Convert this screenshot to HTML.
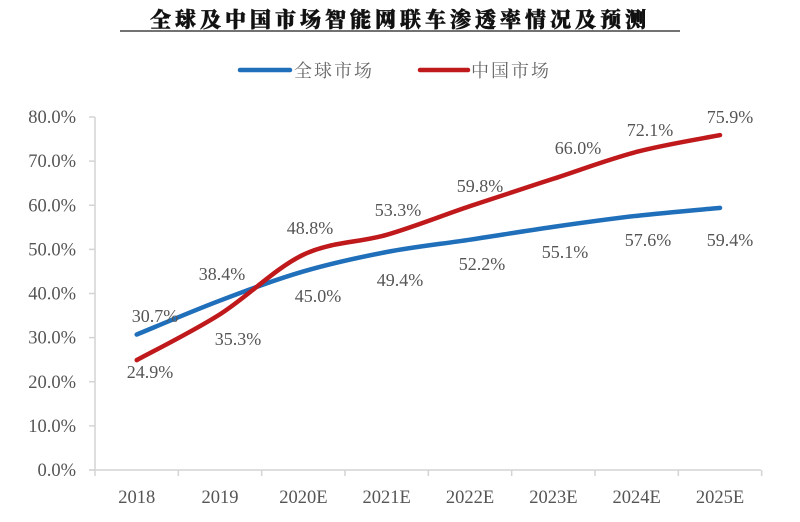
<!DOCTYPE html>
<html><head><meta charset="utf-8"><style>
html,body{margin:0;padding:0;background:#fff;}
svg{display:block;font-family:"Liberation Serif","Noto Serif CJK SC",serif;}
</style></head><body>
<svg id="c" width="800" height="522" viewBox="0 0 800 522" xmlns="http://www.w3.org/2000/svg">
<text x="400" y="27" text-anchor="middle" font-size="21" font-weight="900" fill="#111" letter-spacing="4" stroke="#111" stroke-width="0.5" font-family="'Noto Serif CJK SC',serif">全球及中国市场智能网联车渗透率情况及预测</text>
<line x1="120" y1="31" x2="680" y2="31" stroke="#444" stroke-width="1.5"/>
<line x1="240" y1="70" x2="290" y2="70" stroke="#1f6fba" stroke-width="4.5" stroke-linecap="round"/>
<text x="294" y="77" font-size="18" fill="#666" letter-spacing="2" font-family="'Noto Serif CJK SC',serif">全球市场</text>
<line x1="420" y1="70" x2="468" y2="70" stroke="#c0191c" stroke-width="4.5" stroke-linecap="round"/>
<text x="471" y="77" font-size="18" fill="#666" letter-spacing="2" font-family="'Noto Serif CJK SC',serif">中国市场</text>
<g id="axes" stroke="#d4d4d4" stroke-width="1.5"></g>
<g id="lbl" font-size="18.5" fill="#555"></g>
<path id="pb" fill="none" stroke="#1f6fba" stroke-width="4.5" stroke-linecap="round"/>
<path id="pr" fill="none" stroke="#c0191c" stroke-width="4.5" stroke-linecap="round"/>
<g id="dl" font-size="18" fill="#555" text-anchor="middle"></g>
</svg>
<script>
var NS="http://www.w3.org/2000/svg";
function el(p,t,a,txt){var e=document.createElementNS(NS,t);for(var k in a)e.setAttribute(k,a[k]);if(txt)e.textContent=txt;p.appendChild(e);return e;}
var ax=document.getElementById('axes'),lb=document.getElementById('lbl'),dl=document.getElementById('dl');
function Y(v){return 470-v*4.4125;}
function X(i){return 136.7+i*83.33;}
el(ax,'line',{x1:95,y1:117,x2:95,y2:470});
el(ax,'line',{x1:89,y1:470,x2:761,y2:470});
for(var i=0;i<=8;i++){var y=Y(i*10);el(ax,'line',{x1:89,y1:y,x2:95,y2:y});
 el(lb,'text',{x:76,y:y+6,'text-anchor':'end'},(i*10).toFixed(1)+'%');}
var cats=['2018','2019','2020E','2021E','2022E','2023E','2024E','2025E'];
for(var i=0;i<=8;i++){var x=95+i*83.33;el(ax,'line',{x1:x,y1:470,x2:x,y2:476});}
for(var i=0;i<8;i++)el(lb,'text',{x:X(i),y:503,'text-anchor':'middle'},cats[i]);
function path(d){var p=d.map(function(v,i){return [X(i),Y(v)];});var s='M'+p[0][0]+','+p[0][1];
 for(var i=0;i<p.length-1;i++){var a=p[i-1]||p[i],b=p[i],c=p[i+1],e=p[i+2]||c;
 s+=' C'+(b[0]+(c[0]-a[0])/6)+','+(b[1]+(c[1]-a[1])/6)+' '+(c[0]-(e[0]-b[0])/6)+','+(c[1]-(e[1]-b[1])/6)+' '+c[0]+','+c[1];}return s;}
var B=[30.7,38.4,45.0,49.4,52.2,55.1,57.6,59.4],R=[24.9,35.3,48.8,53.3,59.8,66.0,72.1,75.9];
document.getElementById('pb').setAttribute('d',path(B));
document.getElementById('pr').setAttribute('d',path(R));
var bl=[[155,322],[222,280],[318,302],[400,286],[482,270],[565,258],[648,246],[730,246]];
var rl=[[150,378],[238,345],[310,234],[398,216],[480,192],[578,154],[650,136],[730,123]];
for(var i=0;i<8;i++){el(dl,'text',{x:bl[i][0],y:bl[i][1]},B[i].toFixed(1)+'%');el(dl,'text',{x:rl[i][0],y:rl[i][1]},R[i].toFixed(1)+'%');}
</script>
</body></html>
